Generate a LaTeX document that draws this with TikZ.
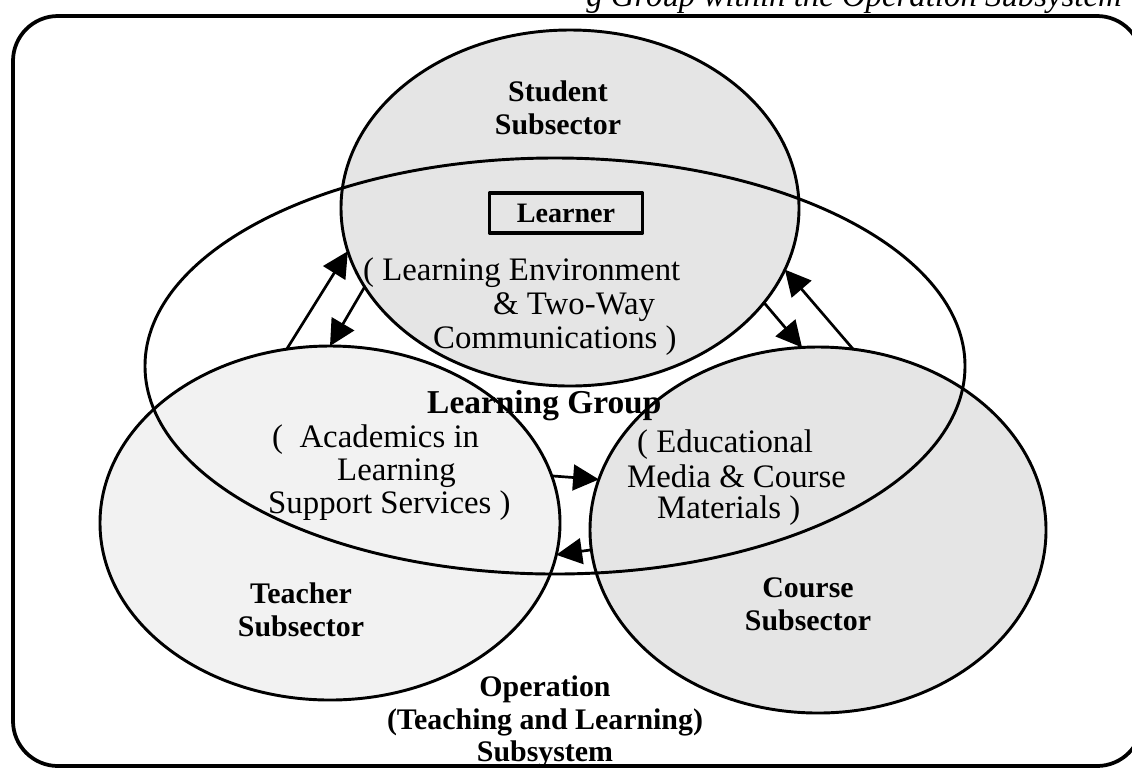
\documentclass[tikz,border=0pt]{standalone}
\usepackage{fontspec}
\setmainfont{Liberation Serif}
\usetikzlibrary{arrows.meta,shapes.geometric}

\tikzset{
  sector/.style={ellipse, draw, line width=2.5pt, inner sep=0pt, outer sep=0pt},
  lbl/.style={font=\fontsize{25.5}{28}\selectfont\bfseries, align=center},
  txt/.style={font=\fontsize{28}{29}\selectfont, anchor=base west, inner sep=0pt},
}

\begin{document}
\begin{tikzpicture}[line cap=round,line join=round,>={Triangle[length=22pt,width=22pt]},x=0.03cm,y=-0.03cm]
        \useasboundingbox (0,0) rectangle (1132,770);

        \node [font=\fontsize{28}{30}\selectfont\itshape, anchor=base east, inner sep=0pt] (caption) at (1122,6) {g Group within the Operation Subsystem};
        \draw [line width=3.2pt, rounded corners=1.35cm] (13,16) rectangle (1142,766);

        \node [sector, fill=gray!20, minimum width=13.74cm, minimum height=10.68cm] (student) at (570,208) {};
        \node [sector, fill=gray!10, minimum width=13.8cm, minimum height=10.62cm] (teacher) at (330,523) {};
        \node [sector, fill=gray!20, minimum width=13.68cm, minimum height=10.98cm] (course) at (818,530) {};
        \node [sector, minimum width=24.6cm, minimum height=12.48cm] (group) at (555,366) {};

        \draw [->, line width=2.3pt] (teacher.104) -- (student.191);
        \draw [->, line width=2.3pt] (student.201) -- (teacher.90);
        \draw [->, line width=2.3pt] (course.79) -- (student.344);
        \draw [->, line width=2.3pt] (student.334) -- (course.95);
        \draw [->, line width=2.3pt] (teacher.12) -- (course.167);
        \draw [->, line width=2.3pt] (course.185) -- (teacher.352);

        \node [lbl] (studentlbl) at (558,108) {Student\\Subsector};
        \node [draw, line width=3.2pt, minimum width=4.59cm, minimum height=1.2cm, font=\fontsize{24}{26}\selectfont\bfseries] (learner) at (566,213) {Learner};
        \node [txt] (env1) at (363,280) {( Learning Environment};
        \node [txt] (env2) at (493,314) {\& Two-Way};
        \node [txt] (env3) at (433,348) {Communications )};

        \node [font=\fontsize{28.5}{30}\selectfont\bfseries, anchor=base west, inner sep=0pt] (grouplbl) at (427,413) {Learning Group};

        \node [txt] (acad1) at (272,447) {(\ \ Academics in};
        \node [txt] (acad2) at (337,480) {Learning};
        \node [txt] (acad3) at (268,513) {Support Services )};

        \node [txt] (media1) at (637,452) {( Educational};
        \node [txt] (media2) at (627,487) {Media \& Course};
        \node [txt] (media3) at (657,518) {Materials )};

        \node [lbl] (teacherlbl) at (301,610) {Teacher\\Subsector};
        \node [lbl] (courselbl) at (808,604) {Course\\Subsector};
        \node [lbl] (operation) at (545,722) {Operation\\(Teaching and Learning)\\Subsystem};
\end{tikzpicture}
\end{document}
